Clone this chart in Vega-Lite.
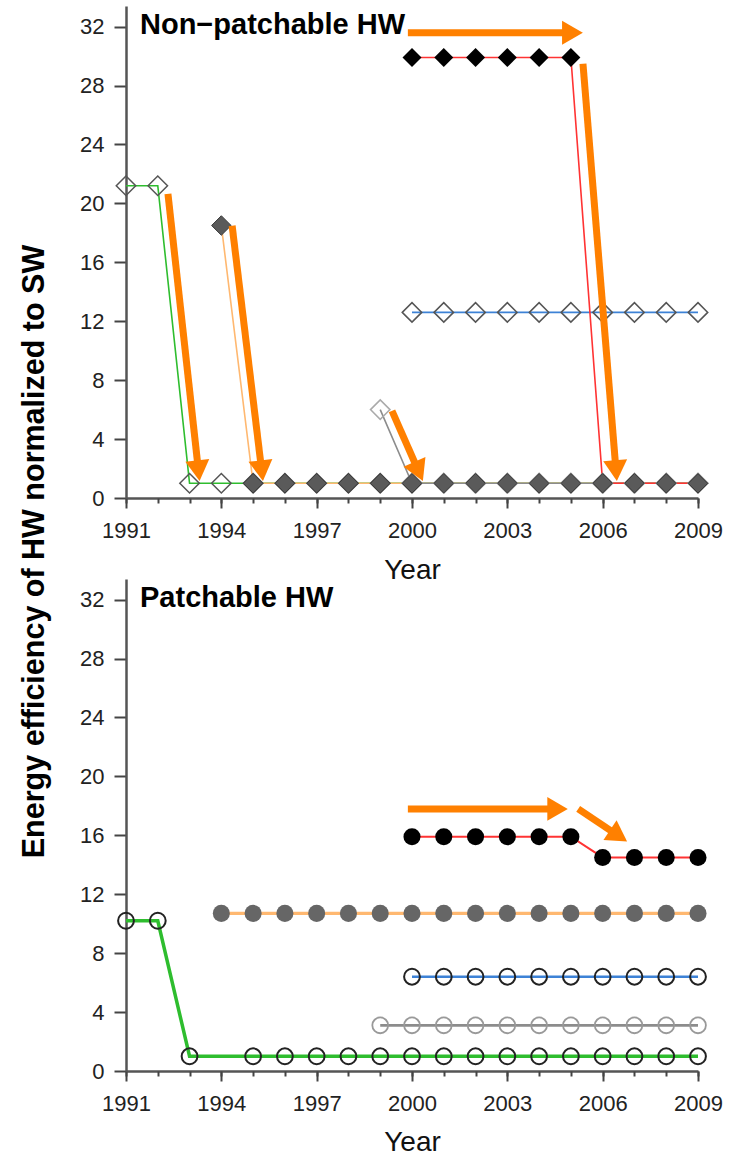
{
  "$schema": "https://vega.github.io/schema/vega-lite/v6.json",
  "background": "white",
  "padding": {"left": 19, "top": 6, "right": 5, "bottom": 0},
  "config": {
    "view": {"stroke": null},
    "font": "Liberation Sans",
    "axis": {"grid": false, "labelFont": "Liberation Sans", "titleFont": "Liberation Sans", "labelOverlap": false}
  },
  "datasets": {
    "series": [
      {"panel": "top", "series": "G", "year": 1991, "value": 21.2},
      {"panel": "top", "series": "G", "year": 1992, "value": 21.2},
      {"panel": "top", "series": "G", "year": 1993, "value": 1},
      {"panel": "top", "series": "G", "year": 1994, "value": 1},
      {"panel": "top", "series": "G", "year": 1995, "value": 1},
      {"panel": "top", "series": "G", "year": 1996, "value": 1},
      {"panel": "top", "series": "G", "year": 1997, "value": 1},
      {"panel": "top", "series": "G", "year": 1998, "value": 1},
      {"panel": "top", "series": "G", "year": 1999, "value": 1},
      {"panel": "top", "series": "G", "year": 2000, "value": 1},
      {"panel": "top", "series": "G", "year": 2001, "value": 1},
      {"panel": "top", "series": "G", "year": 2002, "value": 1},
      {"panel": "top", "series": "G", "year": 2003, "value": 1},
      {"panel": "top", "series": "G", "year": 2004, "value": 1},
      {"panel": "top", "series": "G", "year": 2005, "value": 1},
      {"panel": "top", "series": "G", "year": 2006, "value": 1},
      {"panel": "top", "series": "G", "year": 2007, "value": 1},
      {"panel": "top", "series": "G", "year": 2008, "value": 1},
      {"panel": "top", "series": "G", "year": 2009, "value": 1},
      {"panel": "top", "series": "O", "year": 1994, "value": 18.5},
      {"panel": "top", "series": "O", "year": 1995, "value": 1},
      {"panel": "top", "series": "O", "year": 1996, "value": 1},
      {"panel": "top", "series": "O", "year": 1997, "value": 1},
      {"panel": "top", "series": "O", "year": 1998, "value": 1},
      {"panel": "top", "series": "O", "year": 1999, "value": 1},
      {"panel": "top", "series": "O", "year": 2000, "value": 1},
      {"panel": "top", "series": "O", "year": 2001, "value": 1},
      {"panel": "top", "series": "O", "year": 2002, "value": 1},
      {"panel": "top", "series": "O", "year": 2003, "value": 1},
      {"panel": "top", "series": "O", "year": 2004, "value": 1},
      {"panel": "top", "series": "O", "year": 2005, "value": 1},
      {"panel": "top", "series": "O", "year": 2006, "value": 1},
      {"panel": "top", "series": "O", "year": 2007, "value": 1},
      {"panel": "top", "series": "O", "year": 2008, "value": 1},
      {"panel": "top", "series": "O", "year": 2009, "value": 1},
      {"panel": "top", "series": "Gy", "year": 1999, "value": 6.0},
      {"panel": "top", "series": "Gy", "year": 2000, "value": 1},
      {"panel": "top", "series": "Gy", "year": 2001, "value": 1},
      {"panel": "top", "series": "Gy", "year": 2002, "value": 1},
      {"panel": "top", "series": "Gy", "year": 2003, "value": 1},
      {"panel": "top", "series": "Gy", "year": 2004, "value": 1},
      {"panel": "top", "series": "Gy", "year": 2005, "value": 1},
      {"panel": "top", "series": "Gy", "year": 2006, "value": 1},
      {"panel": "top", "series": "Gy", "year": 2007, "value": 1},
      {"panel": "top", "series": "Gy", "year": 2008, "value": 1},
      {"panel": "top", "series": "Gy", "year": 2009, "value": 1},
      {"panel": "top", "series": "B", "year": 2000, "value": 12.6},
      {"panel": "top", "series": "B", "year": 2001, "value": 12.6},
      {"panel": "top", "series": "B", "year": 2002, "value": 12.6},
      {"panel": "top", "series": "B", "year": 2003, "value": 12.6},
      {"panel": "top", "series": "B", "year": 2004, "value": 12.6},
      {"panel": "top", "series": "B", "year": 2005, "value": 12.6},
      {"panel": "top", "series": "B", "year": 2006, "value": 12.6},
      {"panel": "top", "series": "B", "year": 2007, "value": 12.6},
      {"panel": "top", "series": "B", "year": 2008, "value": 12.6},
      {"panel": "top", "series": "B", "year": 2009, "value": 12.6},
      {"panel": "top", "series": "R", "year": 2000, "value": 29.9},
      {"panel": "top", "series": "R", "year": 2001, "value": 29.9},
      {"panel": "top", "series": "R", "year": 2002, "value": 29.9},
      {"panel": "top", "series": "R", "year": 2003, "value": 29.9},
      {"panel": "top", "series": "R", "year": 2004, "value": 29.9},
      {"panel": "top", "series": "R", "year": 2005, "value": 29.9},
      {"panel": "top", "series": "R", "year": 2006, "value": 1},
      {"panel": "top", "series": "R", "year": 2007, "value": 1},
      {"panel": "top", "series": "R", "year": 2008, "value": 1},
      {"panel": "top", "series": "R", "year": 2009, "value": 1},
      {"panel": "bottom", "series": "G", "year": 1991, "value": 10.2},
      {"panel": "bottom", "series": "G", "year": 1992, "value": 10.2},
      {"panel": "bottom", "series": "G", "year": 1993, "value": 1},
      {"panel": "bottom", "series": "G", "year": 1995, "value": 1},
      {"panel": "bottom", "series": "G", "year": 1996, "value": 1},
      {"panel": "bottom", "series": "G", "year": 1997, "value": 1},
      {"panel": "bottom", "series": "G", "year": 1998, "value": 1},
      {"panel": "bottom", "series": "G", "year": 1999, "value": 1},
      {"panel": "bottom", "series": "G", "year": 2000, "value": 1},
      {"panel": "bottom", "series": "G", "year": 2001, "value": 1},
      {"panel": "bottom", "series": "G", "year": 2002, "value": 1},
      {"panel": "bottom", "series": "G", "year": 2003, "value": 1},
      {"panel": "bottom", "series": "G", "year": 2004, "value": 1},
      {"panel": "bottom", "series": "G", "year": 2005, "value": 1},
      {"panel": "bottom", "series": "G", "year": 2006, "value": 1},
      {"panel": "bottom", "series": "G", "year": 2007, "value": 1},
      {"panel": "bottom", "series": "G", "year": 2008, "value": 1},
      {"panel": "bottom", "series": "G", "year": 2009, "value": 1},
      {"panel": "bottom", "series": "O", "year": 1994, "value": 10.7},
      {"panel": "bottom", "series": "O", "year": 1995, "value": 10.7},
      {"panel": "bottom", "series": "O", "year": 1996, "value": 10.7},
      {"panel": "bottom", "series": "O", "year": 1997, "value": 10.7},
      {"panel": "bottom", "series": "O", "year": 1998, "value": 10.7},
      {"panel": "bottom", "series": "O", "year": 1999, "value": 10.7},
      {"panel": "bottom", "series": "O", "year": 2000, "value": 10.7},
      {"panel": "bottom", "series": "O", "year": 2001, "value": 10.7},
      {"panel": "bottom", "series": "O", "year": 2002, "value": 10.7},
      {"panel": "bottom", "series": "O", "year": 2003, "value": 10.7},
      {"panel": "bottom", "series": "O", "year": 2004, "value": 10.7},
      {"panel": "bottom", "series": "O", "year": 2005, "value": 10.7},
      {"panel": "bottom", "series": "O", "year": 2006, "value": 10.7},
      {"panel": "bottom", "series": "O", "year": 2007, "value": 10.7},
      {"panel": "bottom", "series": "O", "year": 2008, "value": 10.7},
      {"panel": "bottom", "series": "O", "year": 2009, "value": 10.7},
      {"panel": "bottom", "series": "Gy", "year": 1999, "value": 3.1},
      {"panel": "bottom", "series": "Gy", "year": 2000, "value": 3.1},
      {"panel": "bottom", "series": "Gy", "year": 2001, "value": 3.1},
      {"panel": "bottom", "series": "Gy", "year": 2002, "value": 3.1},
      {"panel": "bottom", "series": "Gy", "year": 2003, "value": 3.1},
      {"panel": "bottom", "series": "Gy", "year": 2004, "value": 3.1},
      {"panel": "bottom", "series": "Gy", "year": 2005, "value": 3.1},
      {"panel": "bottom", "series": "Gy", "year": 2006, "value": 3.1},
      {"panel": "bottom", "series": "Gy", "year": 2007, "value": 3.1},
      {"panel": "bottom", "series": "Gy", "year": 2008, "value": 3.1},
      {"panel": "bottom", "series": "Gy", "year": 2009, "value": 3.1},
      {"panel": "bottom", "series": "B", "year": 2000, "value": 6.4},
      {"panel": "bottom", "series": "B", "year": 2001, "value": 6.4},
      {"panel": "bottom", "series": "B", "year": 2002, "value": 6.4},
      {"panel": "bottom", "series": "B", "year": 2003, "value": 6.4},
      {"panel": "bottom", "series": "B", "year": 2004, "value": 6.4},
      {"panel": "bottom", "series": "B", "year": 2005, "value": 6.4},
      {"panel": "bottom", "series": "B", "year": 2006, "value": 6.4},
      {"panel": "bottom", "series": "B", "year": 2007, "value": 6.4},
      {"panel": "bottom", "series": "B", "year": 2008, "value": 6.4},
      {"panel": "bottom", "series": "B", "year": 2009, "value": 6.4},
      {"panel": "bottom", "series": "R", "year": 2000, "value": 15.9},
      {"panel": "bottom", "series": "R", "year": 2001, "value": 15.9},
      {"panel": "bottom", "series": "R", "year": 2002, "value": 15.9},
      {"panel": "bottom", "series": "R", "year": 2003, "value": 15.9},
      {"panel": "bottom", "series": "R", "year": 2004, "value": 15.9},
      {"panel": "bottom", "series": "R", "year": 2005, "value": 15.9},
      {"panel": "bottom", "series": "R", "year": 2006, "value": 14.5},
      {"panel": "bottom", "series": "R", "year": 2007, "value": 14.5},
      {"panel": "bottom", "series": "R", "year": 2008, "value": 14.5},
      {"panel": "bottom", "series": "R", "year": 2009, "value": 14.5}
    ],
    "arrows": [
      {"panel": "top", "id": "a1", "year": 1999.87, "value": 31.59, "year2": 2005.05, "value2": 31.59},
      {"panel": "top", "id": "a2", "year": 1992.32, "value": 20.65, "year2": 1993.28, "value2": 1.85},
      {"panel": "top", "id": "a3", "year": 1994.34, "value": 18.48, "year2": 1995.27, "value2": 1.85},
      {"panel": "top", "id": "a4", "year": 1999.37, "value": 5.91, "year2": 2000.21, "value2": 1.8},
      {"panel": "top", "id": "a5", "year": 2005.38, "value": 29.48, "year2": 2006.42, "value2": 1.86},
      {"panel": "bottom", "id": "b1", "year": 1999.87, "value": 17.79, "year2": 2004.58, "value2": 17.79},
      {"panel": "bottom", "id": "b2", "year": 2005.23, "value": 17.79, "year2": 2006.5, "value2": 15.96}
    ]
  },
  "spacing": 81,
  "bounds": "flush",
  "vconcat": [
    {
      "width": 572,
      "height": 492,
      "resolve": {"axis": {"x": "independent"}},
      "layer": [
        {
          "layer": [
            {
              "data": {"name": "series"},
              "transform": [{"filter": "datum.panel == 'top'"}],
              "mark": {"type": "line", "strokeWidth": 1.6},
              "encoding": {
                "x": {"field": "year", "type": "quantitative", "title": "Year",
                  "scale": {"domain": [1991, 2009], "nice": false, "zero": false},
                  "axis": {"orient": "bottom", "values": [1991,1994,1997,2000,2003,2006,2009], "format": "d",
                    "tickSize": 10, "labelPadding": 12, "labelFontSize": 22, "labelColor": "#222222", "labelFlush": false, "labelOverlap": false,
                    "domainColor": "#555555", "domainWidth": 2.5, "tickColor": "#444444", "tickWidth": 2,
                    "titleFontSize": 28, "titleFontWeight": "normal", "titleColor": "#111111", "titleY": 80, "titleBaseline": "alphabetic"}},
                "y": {"field": "value", "type": "quantitative", "title": "Energy efficiency of HW normalized to SW",
                  "scale": {"domain": [0, 33.4], "nice": false, "zero": true},
                  "axis": {"values": [0,4,8,12,16,20,24,28,32],
                    "tickSize": 12, "labelPadding": 10, "labelFontSize": 22, "labelColor": "#222222", "labelFlush": false, "labelOverlap": false,
                    "domainColor": "#555555", "domainWidth": 2.5, "tickColor": "#444444", "tickWidth": 2,
                    "titleFontSize": 30.5, "titleFontWeight": "bold", "titleColor": "#000000", "titleAngle": 270,
                    "titleX": -83, "titleY": 545, "titleBaseline": "alphabetic", "titleAlign": "center"}},
                "color": {"field": "series", "type": "nominal", "legend": null,
                  "scale": {"domain": ["G", "O", "Gy", "B", "R"], "range": ["#2EBD2E", "#FFB870", "#8C8C8C", "#3D82D6", "#FF3333"]}}
              }
            },
            {
              "data": {"name": "series"},
              "transform": [{"filter": "datum.panel == 'top' && (datum.series == 'G' || datum.series == 'B')"}],
              "mark": {"type": "point", "shape": "diamond", "filled": false, "color": "#555555", "strokeWidth": 1.5, "size": 380, "opacity": 1},
              "encoding": {"x": {"field": "year", "type": "quantitative", "title": "Year"}, "y": {"field": "value", "type": "quantitative", "title": "Energy efficiency of HW normalized to SW"}}
            },
            {
              "data": {"name": "series"},
              "transform": [{"filter": "datum.panel == 'top' && datum.series == 'Gy'"}],
              "mark": {"type": "point", "shape": "diamond", "filled": false, "color": "#AAAAAA", "strokeWidth": 1.5, "size": 380, "opacity": 1},
              "encoding": {"x": {"field": "year", "type": "quantitative", "title": "Year"}, "y": {"field": "value", "type": "quantitative", "title": "Energy efficiency of HW normalized to SW"}}
            },
            {
              "data": {"name": "series"},
              "transform": [{"filter": "datum.panel == 'top' && datum.series == 'R'"}],
              "mark": {"type": "point", "shape": "diamond", "filled": true, "color": "#000000", "size": 360, "opacity": 1},
              "encoding": {"x": {"field": "year", "type": "quantitative", "title": "Year"}, "y": {"field": "value", "type": "quantitative", "title": "Energy efficiency of HW normalized to SW"}}
            },
            {
              "data": {"name": "series"},
              "transform": [{"filter": "datum.panel == 'top' && datum.series == 'O'"}],
              "mark": {"type": "point", "shape": "diamond", "filled": true, "fill": "#5A5A5A", "stroke": "#3A3A3A", "strokeWidth": 1, "size": 380, "opacity": 1},
              "encoding": {"x": {"field": "year", "type": "quantitative", "title": "Year"}, "y": {"field": "value", "type": "quantitative", "title": "Energy efficiency of HW normalized to SW"}}
            },
            {
              "data": {"name": "arrows"},
              "transform": [{"filter": "datum.panel == 'top'"}],
              "mark": {"type": "rule", "color": "#FF8000", "strokeWidth": 7, "strokeCap": "butt"},
              "encoding": {"x": {"field": "year", "type": "quantitative", "title": "Year"}, "y": {"field": "value", "type": "quantitative", "title": "Energy efficiency of HW normalized to SW"},
                "x2": {"field": "year2"}, "y2": {"field": "value2"}}
            },
            {
              "data": {"name": "arrows"},
              "transform": [{"filter": "datum.id == 'a1'"}],
              "mark": {"type": "point", "shape": "triangle-right", "angle": 0, "filled": true, "color": "#FF8000", "size": 576, "opacity": 1, "strokeWidth": 0},
              "encoding": {"x": {"field": "year2", "type": "quantitative", "title": "Year"}, "y": {"field": "value2", "type": "quantitative", "title": "Energy efficiency of HW normalized to SW"}}
            },
            {
              "data": {"name": "arrows"},
              "transform": [{"filter": "datum.id == 'a2'"}],
              "mark": {"type": "point", "shape": "triangle-down", "angle": -6.3, "filled": true, "color": "#FF8000", "size": 576, "opacity": 1, "strokeWidth": 0},
              "encoding": {"x": {"field": "year2", "type": "quantitative", "title": "Year"}, "y": {"field": "value2", "type": "quantitative", "title": "Energy efficiency of HW normalized to SW"}}
            },
            {
              "data": {"name": "arrows"},
              "transform": [{"filter": "datum.id == 'a3'"}],
              "mark": {"type": "point", "shape": "triangle-down", "angle": -6.9, "filled": true, "color": "#FF8000", "size": 576, "opacity": 1, "strokeWidth": 0},
              "encoding": {"x": {"field": "year2", "type": "quantitative", "title": "Year"}, "y": {"field": "value2", "type": "quantitative", "title": "Energy efficiency of HW normalized to SW"}}
            },
            {
              "data": {"name": "arrows"},
              "transform": [{"filter": "datum.id == 'a4'"}],
              "mark": {"type": "point", "shape": "triangle-down", "angle": -23.9, "filled": true, "color": "#FF8000", "size": 576, "opacity": 1, "strokeWidth": 0},
              "encoding": {"x": {"field": "year2", "type": "quantitative", "title": "Year"}, "y": {"field": "value2", "type": "quantitative", "title": "Energy efficiency of HW normalized to SW"}}
            },
            {
              "data": {"name": "arrows"},
              "transform": [{"filter": "datum.id == 'a5'"}],
              "mark": {"type": "point", "shape": "triangle-down", "angle": -4.7, "filled": true, "color": "#FF8000", "size": 576, "opacity": 1, "strokeWidth": 0},
              "encoding": {"x": {"field": "year2", "type": "quantitative", "title": "Year"}, "y": {"field": "value2", "type": "quantitative", "title": "Energy efficiency of HW normalized to SW"}}
            },
            {
              "data": {"values": [{}]},
              "mark": {"type": "text", "text": "Non−patchable HW", "align": "left", "baseline": "alphabetic", "dx": 14, "dy": 28, "fontSize": 29, "fontWeight": "bold", "color": "#000000", "font": "Liberation Sans"},
              "encoding": {"x": {"datum": 1991, "type": "quantitative", "title": "Year"}, "y": {"datum": 33.4, "type": "quantitative", "title": "Energy efficiency of HW normalized to SW"}}
            }
          ]
        },
        {
          "data": {"name": "series"},
          "transform": [{"filter": "datum.panel == 'top'"}],
          "mark": {"type": "point", "opacity": 0},
          "encoding": {
            "x": {"field": "year", "type": "quantitative", "title": null,
              "axis": {"orient": "bottom", "values": [1991,1992,1993,1994,1995,1996,1997,1998,1999,2000,2001,2002,2003,2004,2005,2006,2007,2008,2009],
                "labels": false, "domain": false, "tickSize": 5, "tickColor": "#444444", "tickWidth": 2}},
            "y": {"field": "value", "type": "quantitative", "title": "Energy efficiency of HW normalized to SW"}
          }
        }
      ]
    },
    {
      "width": 572,
      "height": 492,
      "resolve": {"axis": {"x": "independent"}},
      "layer": [
        {
          "layer": [
            {
              "data": {"name": "series"},
              "transform": [{"filter": "datum.panel == 'bottom'"}],
              "mark": {"type": "line"},
              "encoding": {
                "x": {"field": "year", "type": "quantitative", "title": "Year",
                  "scale": {"domain": [1991, 2009], "nice": false, "zero": false},
                  "axis": {"orient": "bottom", "values": [1991,1994,1997,2000,2003,2006,2009], "format": "d",
                    "tickSize": 10, "labelPadding": 12, "labelFontSize": 22, "labelColor": "#222222", "labelFlush": false, "labelOverlap": false,
                    "domainColor": "#555555", "domainWidth": 2.5, "tickColor": "#444444", "tickWidth": 2,
                    "titleFontSize": 28, "titleFontWeight": "normal", "titleColor": "#111111", "titleY": 79, "titleBaseline": "alphabetic"}},
                "y": {"field": "value", "type": "quantitative", "title": null,
                  "scale": {"domain": [0, 33.4], "nice": false, "zero": true},
                  "axis": {"values": [0,4,8,12,16,20,24,28,32],
                    "tickSize": 12, "labelPadding": 10, "labelFontSize": 22, "labelColor": "#222222", "labelFlush": false, "labelOverlap": false,
                    "domainColor": "#555555", "domainWidth": 2.5, "tickColor": "#444444", "tickWidth": 2}},
                "color": {"field": "series", "type": "nominal", "legend": null,
                  "scale": {"domain": ["G", "O", "Gy", "B", "R"], "range": ["#6ACD6A", "#FFB870", "#9A9A9A", "#2A7BE0", "#FF5A5A"]}},
                "strokeWidth": {"field": "series", "type": "nominal", "legend": null,
                  "scale": {"domain": ["G", "O", "Gy", "B", "R"], "range": [3.5, 2, 2, 2, 2]}}
              }
            },
            {
              "data": {"name": "series"},
              "transform": [{"filter": "datum.panel == 'bottom' && (datum.series == 'G' || datum.series == 'B')"}],
              "mark": {"type": "point", "shape": "circle", "filled": false, "color": "#222222", "strokeWidth": 2, "size": 250, "opacity": 1},
              "encoding": {"x": {"field": "year", "type": "quantitative", "title": "Year"}, "y": {"field": "value", "type": "quantitative", "title": null}}
            },
            {
              "data": {"name": "series"},
              "transform": [{"filter": "datum.panel == 'bottom' && datum.series == 'Gy'"}],
              "mark": {"type": "point", "shape": "circle", "filled": false, "color": "#999999", "strokeWidth": 1.8, "size": 250, "opacity": 1},
              "encoding": {"x": {"field": "year", "type": "quantitative", "title": "Year"}, "y": {"field": "value", "type": "quantitative", "title": null}}
            },
            {
              "data": {"name": "series"},
              "transform": [{"filter": "datum.panel == 'bottom' && datum.series == 'O'"}],
              "mark": {"type": "point", "shape": "circle", "filled": true, "color": "#666666", "size": 290, "opacity": 1},
              "encoding": {"x": {"field": "year", "type": "quantitative", "title": "Year"}, "y": {"field": "value", "type": "quantitative", "title": null}}
            },
            {
              "data": {"name": "series"},
              "transform": [{"filter": "datum.panel == 'bottom' && datum.series == 'R'"}],
              "mark": {"type": "point", "shape": "circle", "filled": true, "color": "#000000", "size": 290, "opacity": 1},
              "encoding": {"x": {"field": "year", "type": "quantitative", "title": "Year"}, "y": {"field": "value", "type": "quantitative", "title": null}}
            },
            {
              "data": {"name": "arrows"},
              "transform": [{"filter": "datum.panel == 'bottom'"}],
              "mark": {"type": "rule", "color": "#FF8000", "strokeWidth": 7, "strokeCap": "butt"},
              "encoding": {"x": {"field": "year", "type": "quantitative", "title": "Year"}, "y": {"field": "value", "type": "quantitative", "title": null},
                "x2": {"field": "year2"}, "y2": {"field": "value2"}}
            },
            {
              "data": {"name": "arrows"},
              "transform": [{"filter": "datum.id == 'b1'"}],
              "mark": {"type": "point", "shape": "triangle-right", "angle": 0, "filled": true, "color": "#FF8000", "size": 560, "opacity": 1, "strokeWidth": 0},
              "encoding": {"x": {"field": "year2", "type": "quantitative", "title": "Year"}, "y": {"field": "value2", "type": "quantitative", "title": null}}
            },
            {
              "data": {"name": "arrows"},
              "transform": [{"filter": "datum.id == 'b2'"}],
              "mark": {"type": "point", "shape": "triangle-right", "angle": 33.7, "filled": true, "color": "#FF8000", "size": 560, "opacity": 1, "strokeWidth": 0},
              "encoding": {"x": {"field": "year2", "type": "quantitative", "title": "Year"}, "y": {"field": "value2", "type": "quantitative", "title": null}}
            },
            {
              "data": {"values": [{}]},
              "mark": {"type": "text", "text": "Patchable HW", "align": "left", "baseline": "alphabetic", "dx": 14, "dy": 28, "fontSize": 29, "fontWeight": "bold", "color": "#000000", "font": "Liberation Sans"},
              "encoding": {"x": {"datum": 1991, "type": "quantitative", "title": "Year"}, "y": {"datum": 33.4, "type": "quantitative", "title": null}}
            }
          ]
        },
        {
          "data": {"name": "series"},
          "transform": [{"filter": "datum.panel == 'bottom'"}],
          "mark": {"type": "point", "opacity": 0},
          "encoding": {
            "x": {"field": "year", "type": "quantitative", "title": null,
              "axis": {"orient": "bottom", "values": [1991,1992,1993,1994,1995,1996,1997,1998,1999,2000,2001,2002,2003,2004,2005,2006,2007,2008,2009],
                "labels": false, "domain": false, "tickSize": 5, "tickColor": "#444444", "tickWidth": 2}},
            "y": {"field": "value", "type": "quantitative", "title": null}
          }
        }
      ]
    }
  ]
}
